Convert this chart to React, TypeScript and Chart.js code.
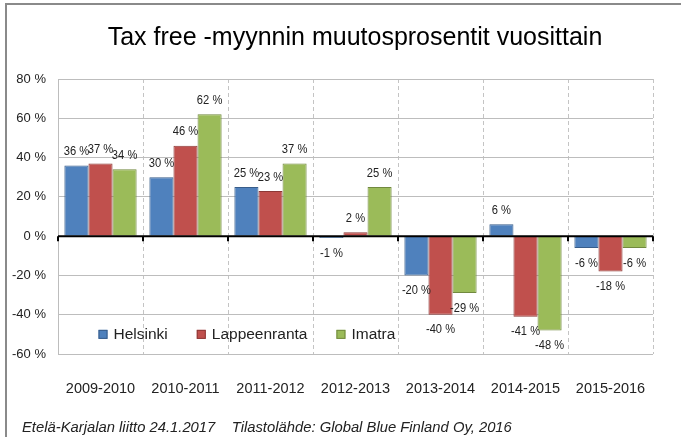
import React, { useEffect, useRef } from "react";
import { Chart, registerables } from "chart.js";

Chart.register(...registerables);

const categories = ["2009-2010", "2010-2011", "2011-2012", "2012-2013", "2013-2014", "2014-2015", "2015-2016"];
const seriesNames = ["Helsinki", "Lappeenranta", "Imatra"];
const helsinki = [36, 30, 25, -1, -20, 6, -6];
const lappeenranta = [37, 46, 23, 2, -40, -41, -18];
const imatra = [34, 62, 37, 25, -29, -48, -6];
const yMin = -60;
const yMax = 80;
const yStep = 20;
const titleText = "Tax free -myynnin muutosprosentit vuosittain";
const footerText = "Etelä-Karjalan liitto 24.1.2017    Tilastolähde: Global Blue Finland Oy, 2016";

const fillColors = ["#4F81BD", "#C0504D", "#9BBB59"];
const borderColors = ["#385D8A", "#8C3836", "#71893F"];
const FONT = "'Liberation Sans', Arial, sans-serif";

const overlayPlugin = {
  id: "overlay",
  afterDatasetsDraw(chart: any) {
    const { ctx, chartArea, scales } = chart;
    const x = scales.x;
    const y = scales.y;
    const y0 = y.getPixelForValue(0);
    ctx.save();
    // zero line
    ctx.strokeStyle = "#000";
    ctx.lineWidth = 2;
    ctx.beginPath();
    ctx.moveTo(chartArea.left, y0);
    ctx.lineTo(chartArea.right, y0);
    ctx.stroke();
    // tick marks at category boundaries
    const half = (x.getPixelForValue(1) - x.getPixelForValue(0)) / 2;
    for (let i = 0; i <= categories.length; i++) {
      const bx = Math.round(x.getPixelForValue(i) - half);
      ctx.beginPath();
      ctx.moveTo(bx, y0);
      ctx.lineTo(bx, y0 + 5);
      ctx.stroke();
    }
    // data labels
    ctx.font = `13px ${FONT}`;
    ctx.fillStyle = "#222";
    ctx.textAlign = "center";
    ctx.textBaseline = "middle";
    chart.data.datasets.forEach((ds: any, di: number) => {
      const meta = chart.getDatasetMeta(di);
      meta.data.forEach((bar: any, i: number) => {
        const v = ds.data[i];
        const ly = v >= 0 ? bar.y - 14 : bar.y + 15;
        const txt = `${v} %`;
        const w = ctx.measureText(txt).width;
        ctx.fillText(txt, bar.x, ly, Math.min(w * 0.86, 29));
      });
    });
    // legend inside plot area
    const ly = y.getPixelForValue(-50);
    ctx.font = `15.5px ${FONT}`;
    ctx.textAlign = "left";
    let lx = x.getPixelForValue(0) - 2;
    seriesNames.forEach((name, i) => {
      ctx.fillStyle = fillColors[i];
      ctx.fillRect(lx, ly - 4.5, 9, 9);
      ctx.strokeStyle = borderColors[i];
      ctx.lineWidth = 1;
      ctx.strokeRect(lx + 0.5, ly - 4.5 + 0.5, 8, 8);
      ctx.fillStyle = "#222";
      ctx.fillText(name, lx + 15, ly);
      const w = ctx.measureText(name).width;
      lx += 15 + w + 29;
    });
    ctx.restore();
  },
  afterDraw(chart: any) {
    const { ctx } = chart;
    ctx.save();
    ctx.fillStyle = "#000";
    ctx.textAlign = "center";
    ctx.textBaseline = "middle";
    ctx.font = `25px ${FONT}`;
    ctx.fillText(titleText, 355, 38);
    ctx.textAlign = "left";
    ctx.font = `italic 14.8px ${FONT}`;
    ctx.fillStyle = "#222";
    ctx.fillText(footerText, 22, 428);
    ctx.restore();
  },
};

export default function App() {
  const canvasRef = useRef<HTMLCanvasElement | null>(null);

  useEffect(() => {
    if (!canvasRef.current) return;
    const series = [helsinki, lappeenranta, imatra];
    const chart = new Chart(canvasRef.current, {
      type: "bar",
      data: {
        labels: categories,
        datasets: series.map((d, i) => ({
          label: seriesNames[i],
          data: d,
          backgroundColor: fillColors[i],
          borderColor: borderColors[i],
          borderWidth: 1,
          categoryPercentage: 0.85,
          barPercentage: 1.0,
        })),
      },
      options: {
        responsive: false,
        animation: false,
        devicePixelRatio: 1,
        layout: { padding: { top: 79, right: 28, left: 0, bottom: 0 } },
        plugins: {
          legend: { display: false },
          title: { display: false },
          tooltip: { enabled: false },
        },
        scales: {
          x: {
            offset: true,
            grid: {
              offset: true,
              color: "#c4c4c4",
              lineWidth: 1,
              drawTicks: false,
            },
            border: { display: false, dash: [4, 3] },
            ticks: {
              padding: 26,
              color: "#222",
              font: { family: FONT, size: 14.5 },
            },
            afterFit: (scale: any) => {
              scale.height = 83;
            },
          },
          y: {
            min: yMin,
            max: yMax,
            ticks: {
              stepSize: yStep,
              padding: 12,
              color: "#222",
              font: { family: FONT, size: 13 },
              callback: (v: any) => `${v} %`,
            },
            grid: {
              color: "#bdbdbd",
              lineWidth: 1,
              drawTicks: false,
            },
            border: { display: true, color: "#bdbdbd" },
            afterFit: (scale: any) => {
              scale.width = 58;
            },
          },
        },
      },
      plugins: [overlayPlugin],
    });
    return () => chart.destroy();
  }, []);

  return (
    <div
      style={{
        position: "fixed",
        left: 0,
        top: 0,
        width: 681,
        height: 437,
        overflow: "hidden",
        background: "#fff",
      }}
    >
      <div
        style={{
          position: "absolute",
          left: 5,
          top: 3,
          width: 720,
          height: 480,
          borderLeft: "2px solid #8a8a8a",
          borderTop: "2px solid #8a8a8a",
          pointerEvents: "none",
        }}
      />
      <canvas ref={canvasRef} width={681} height={437} style={{ position: "absolute", left: 0, top: 0 }} />
    </div>
  );
}
